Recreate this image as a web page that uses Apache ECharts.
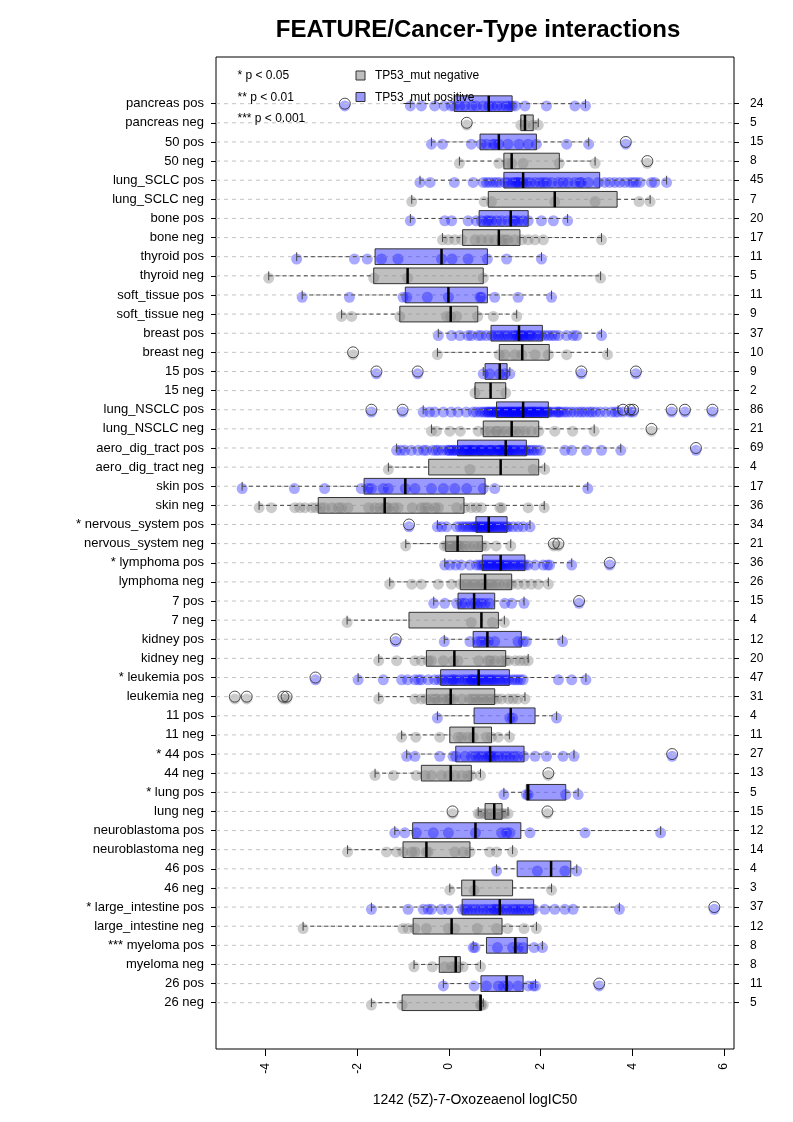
<!DOCTYPE html>
<html><head><meta charset="utf-8">
<script src="https://cdn.jsdelivr.net/npm/echarts@6/dist/echarts.min.js"></script>
<style>html,body{margin:0;padding:0;background:#fff}#c{width:793px;height:1122px}</style>
</head><body><div id="c"></div>
<script>
const categories = ["pancreas pos","pancreas neg","50 pos","50 neg","lung_SCLC pos","lung_SCLC neg","bone pos","bone neg","thyroid pos","thyroid neg","soft_tissue pos","soft_tissue neg","breast pos","breast neg","15 pos","15 neg","lung_NSCLC pos","lung_NSCLC neg","aero_dig_tract pos","aero_dig_tract neg","skin pos","skin neg","* nervous_system pos","nervous_system neg","* lymphoma pos","lymphoma neg","7 pos","7 neg","kidney pos","kidney neg","* leukemia pos","leukemia neg","11 pos","11 neg","* 44 pos","44 neg","* lung pos","lung neg","neuroblastoma pos","neuroblastoma neg","46 pos","46 neg","* large_intestine pos","large_intestine neg","*** myeloma pos","myeloma neg","26 pos","26 neg"];
const counts = [24,5,15,8,45,7,20,17,11,5,11,9,37,10,9,2,86,21,69,4,17,36,34,21,36,26,15,4,12,20,47,31,4,11,27,13,5,15,12,14,4,3,37,12,8,8,11,5];

const whiskerLow  = [-0.84,1.57,-0.38,0.23,-0.63,-0.81,-0.84,-0.14,-3.32,-3.93,-3.2,-2.34,-0.23,-0.25,0.75,0.57,-0.56,-0.38,-1.14,-1.32,-4.51,-4.14,-0.25,-0.94,-0.09,-1.29,-0.33,-2.22,-0.1,-1.53,-1.98,-1.53,-0.25,-1.03,-0.92,-1.61,1.2,0.64,-1.18,-2.21,1.04,0.02,-1.69,-3.18,0.53,-0.76,-0.12,-1.69];
const quart1      = [0.12,1.57,0.68,1.2,1.2,0.86,0.66,0.30,-1.61,-1.64,-0.95,-1.07,0.92,1.1,0.79,0.57,1.04,0.75,0.19,-0.44,-1.85,-2.85,0.59,-0.07,0.73,0.25,0.2,-0.87,0.53,-0.49,-0.18,-0.49,0.55,0.02,0.15,-0.6,1.69,0.79,-0.79,-1.0,1.49,0.28,0.29,-0.78,0.82,-0.21,0.7,-1.02];
const medians     = [0.87,1.66,1.09,1.37,1.62,2.31,1.35,1.09,-0.16,-0.9,-0.01,0.04,1.53,1.6,1.11,0.91,1.62,1.37,1.24,1.13,-0.95,-1.4,0.87,0.19,1.13,0.79,0.55,0.71,0.84,0.12,0.65,0.04,1.35,0.53,0.9,0.04,1.73,0.99,0.58,-0.49,2.23,0.55,1.11,0.06,1.45,0.15,1.26,0.69];
const quart3      = [1.38,1.84,1.91,2.41,3.29,3.67,1.73,1.55,0.84,0.75,0.84,0.63,2.04,2.19,1.27,1.24,2.17,1.96,1.69,1.96,0.79,0.33,1.27,0.73,1.66,1.37,1.0,1.08,1.58,1.24,1.32,1.0,1.88,0.93,1.64,0.49,2.55,1.16,1.57,0.46,2.66,1.39,1.85,1.16,1.71,0.25,1.62,0.71];
const whiskerHigh = [2.98,1.95,3.05,3.19,4.75,4.39,2.59,3.33,2.02,3.31,2.24,1.48,3.33,3.46,1.33,1.24,3.69,3.17,3.75,2.09,3.03,2.08,1.77,1.35,2.68,2.17,1.64,1.21,2.48,1.73,2.99,1.66,2.35,1.32,2.73,0.69,2.82,1.29,4.62,1.39,2.79,2.24,3.72,1.91,2.04,0.69,1.89,0.75];

const outliers = [[-2.27],[0.39],[3.86],[4.33],[],[],[],[],[],[],[],[],[],[-2.09],[-1.58,-0.68,2.89,4.08],[],
 [-1.69,-1.01,3.8,3.95,4.02,4.86,5.15,5.75],[4.42],[5.39],[],[],[],[-0.87],[2.29,2.39],[3.51],[],[2.84],[],[-1.16],[],[-2.91],[-4.67,-4.41,-3.61,-3.54],
 [],[],[4.87],[2.17],[],[0.08,2.15],[],[],[],[],[5.79],[],[],[],[3.28],[]];

const points = [
 [-2.27,-0.84,-0.6,-0.31,-0.1,0.05,0.12,0.24,0.35,0.5,0.6,0.75,0.87,0.95,1.05,1.15,1.25,1.32,1.38,1.45,1.66,2.13,2.75,2.98],
 [0.39,1.57,1.66,1.84,1.95],
 [-0.38,-0.14,0.49,0.71,0.82,0.96,1.0,1.09,1.29,1.53,1.73,1.91,2.57,3.05,3.86],
 [0.23,1.09,1.29,1.37,1.62,2.41,3.19,4.33],
 [-0.63,-0.41,0.12,0.53,0.75,0.82,0.89,0.97,1.04,1.11,1.22,1.29,1.37,1.44,1.48,1.51,1.55,1.62,1.69,1.77,1.88,1.99,2.06,2.13,2.24,2.39,2.49,2.6,2.75,2.86,2.89,3.04,3.26,3.4,3.51,3.62,3.73,3.84,3.95,4.02,4.09,4.17,4.42,4.49,4.75],
 [-0.81,0.77,0.93,2.31,3.19,4.15,4.39],
 [-0.84,-0.09,0.06,0.42,0.6,0.71,0.82,0.86,0.93,1.04,1.15,1.29,1.4,1.44,1.51,1.62,1.73,2.02,2.28,2.59],
 [-0.14,-0.01,0.13,0.28,0.57,0.71,0.86,1.0,1.15,1.22,1.29,1.44,1.59,1.73,1.88,2.06,3.33],
 [-3.32,-2.06,-1.78,-1.47,-1.11,-0.16,0.07,0.42,0.84,1.26,2.02],
 [-3.93,-1.64,-0.9,0.75,3.31],
 [-3.2,-2.17,-1.0,-0.92,-0.47,-0.01,0.68,0.71,1.0,1.51,2.24],
 [-2.34,-2.12,-1.07,-0.05,0.04,0.17,0.63,0.97,1.48],
 [-0.23,0.06,0.24,0.42,0.49,0.64,0.71,0.82,0.93,1.0,1.08,1.15,1.22,1.29,1.37,1.44,1.48,1.51,1.55,1.59,1.62,1.66,1.73,1.77,1.8,1.88,1.95,2.02,2.09,2.17,2.24,2.31,2.39,2.57,2.71,2.79,3.33],
 [-2.09,-0.25,1.1,1.22,1.44,1.59,1.88,2.17,2.57,3.46],
 [-1.58,-0.68,0.75,0.89,1.11,1.22,1.33,2.89,4.08],
 [0.57,1.24],
 [-1.69,-1.01,3.8,3.95,4.02,4.86,5.15,5.75,
  -0.56,-0.42,-0.31,-0.12,0.05,0.2,0.38,0.53,0.6,0.68,0.74,0.79,0.84,0.9,0.93,0.97,1.02,1.05,1.09,1.12,
  1.15,1.19,1.22,1.27,1.3,1.33,1.36,1.41,1.44,1.46,1.5,1.55,1.58,1.6,1.62,1.65,1.69,1.72,1.75,1.78,
  1.81,1.86,1.89,1.92,1.96,2.01,2.05,2.1,2.14,2.17,2.2,2.26,2.33,2.38,2.45,2.52,2.58,2.66,2.74,2.83,
  2.9,2.97,3.06,3.12,3.2,3.3,3.42,3.55,3.63,3.69,1.0,1.25,1.38,1.53,1.84,0.86,2.0,2.4],
 [-0.38,-0.27,0.02,0.25,0.64,0.8,0.9,1.02,1.05,1.15,1.25,1.37,1.45,1.55,1.66,1.8,1.96,2.31,2.7,3.17,4.42],
 [-1.14,-1.05,-0.96,-0.82,-0.67,-0.55,-0.49,-0.35,-0.23,-0.14,-0.05,0.02,0.1,0.15,0.19,0.24,0.3,0.36,0.4,0.44,
  0.49,0.55,0.6,0.64,0.68,0.73,0.78,0.83,0.88,0.93,0.97,1.02,1.07,1.12,1.17,1.21,1.24,1.28,1.33,1.37,
  1.41,1.45,1.5,1.55,1.6,1.65,1.69,1.74,1.8,1.86,1.92,2.0,2.53,2.68,3.0,3.33,3.75,5.39,0.08,0.32,
  0.52,0.7,0.9,1.15,1.3,0.0,-0.28,0.45,1.1],
 [-1.32,0.46,1.84,2.09],
 [-4.51,-3.37,-2.71,-1.91,-1.76,-1.69,-1.43,-1.32,-0.95,-0.74,-0.38,-0.12,0.13,0.39,0.75,1.0,3.03],
 [-4.14,-3.87,-3.36,-3.25,-3.14,-2.99,-2.9,-2.8,-2.71,-2.55,-2.41,-2.34,-2.2,-1.75,-1.61,-1.5,-1.4,-1.36,-1.32,-1.2,
  -1.11,-0.8,-0.6,-0.52,-0.45,-0.3,-0.23,0.17,0.35,0.49,0.6,0.71,1.11,1.15,1.73,2.08],
 [-0.87,-0.25,-0.16,-0.05,0.17,0.25,0.31,0.37,0.42,0.48,0.53,0.57,0.6,0.63,0.67,0.7,0.74,0.78,0.82,0.85,
  0.88,0.92,0.96,1.0,1.05,1.1,1.15,1.2,1.26,1.3,1.4,1.51,1.62,1.77],
 [-0.94,-0.1,-0.04,0.0,0.05,0.1,0.15,0.19,0.22,0.28,0.35,0.45,0.55,0.65,0.72,0.8,1.03,1.35,2.29,2.39,0.12],
 [-0.09,0.02,0.15,0.27,0.46,0.6,0.67,0.72,0.76,0.8,0.84,0.88,0.92,0.96,1.0,1.04,1.08,1.12,1.15,1.19,
  1.23,1.28,1.33,1.38,1.44,1.5,1.55,1.6,1.66,1.72,1.88,2.06,2.15,2.2,2.68,3.51],
 [-1.29,-0.81,-0.6,-0.23,0.06,0.25,0.33,0.4,0.48,0.55,0.62,0.7,0.76,0.82,0.88,0.95,1.02,1.1,1.2,1.3,1.37,1.51,1.65,1.8,1.95,2.17],
 [-0.33,-0.09,0.17,0.28,0.35,0.49,0.57,0.64,0.71,0.79,0.89,1.22,1.37,1.64,2.84],
 [-2.22,0.49,0.95,1.21],
 [-1.16,-0.1,0.46,0.64,0.71,0.79,0.86,1.0,1.51,1.62,1.69,2.48],
 [-1.53,-1.14,-0.74,-0.6,-0.45,-0.38,-0.12,0.1,0.2,0.65,0.85,0.9,1.0,1.15,1.24,1.3,1.45,1.55,1.65,1.73],
 [-2.91,-1.98,-1.43,-1.03,-0.9,-0.74,-0.66,-0.6,-0.31,-0.22,-0.15,-0.08,0.0,0.07,0.15,0.22,0.3,0.36,0.42,0.48,
  0.53,0.58,0.62,0.65,0.7,0.75,0.8,0.86,0.9,0.95,1.0,1.06,1.12,1.18,1.25,1.3,1.38,1.44,1.5,1.56,
  1.62,2.39,2.68,2.99,0.1,0.5,-0.45],
 [-4.67,-4.41,-3.61,-3.54,-1.53,-0.74,-0.6,-0.5,-0.38,-0.25,-0.14,-0.05,0.0,0.04,0.1,0.28,0.45,0.52,0.6,0.67,
  0.75,0.82,0.9,0.97,1.05,1.15,1.3,1.4,1.5,1.66,-0.3],
 [-0.25,1.33,1.39,2.35],
 [-1.03,-0.72,-0.2,0.2,0.28,0.42,0.53,0.82,0.93,1.08,1.32],
 [-0.92,-0.74,-0.2,0.09,0.15,0.35,0.49,0.58,0.65,0.72,0.8,0.86,0.9,0.95,1.0,1.08,1.17,1.25,1.33,1.42,1.5,1.64,1.88,2.13,2.49,2.73,4.87],
 [-1.61,-1.21,-0.71,-0.52,-0.38,-0.16,-0.01,0.13,0.28,0.42,0.49,0.69,2.17],
 [1.2,1.69,1.73,2.55,2.82],
 [0.08,0.64,0.68,0.75,0.8,0.86,0.92,0.99,1.04,1.09,1.15,1.16,1.22,1.29,2.15],
 [-1.18,-0.96,-0.71,-0.34,-0.01,0.58,1.15,1.26,1.33,1.77,2.97,4.62],
 [-2.21,-1.36,-1.14,-1.0,-0.81,-0.74,-0.49,-0.45,0.13,0.31,0.46,0.89,1.04,1.39],
 [1.04,1.93,2.53,2.79],
 [0.02,0.55,2.24],
 [-1.69,-0.89,-0.56,-0.45,-0.38,-0.16,-0.01,0.29,0.35,0.42,0.5,0.58,0.66,0.75,0.82,0.9,0.98,1.05,1.11,1.18,
  1.25,1.33,1.4,1.46,1.52,1.58,1.65,1.72,1.8,1.85,2.09,2.31,2.53,2.71,3.72,5.79,1.0],
 [-3.18,-1.0,-0.89,-0.74,-0.49,-0.01,0.13,0.62,1.04,1.28,1.64,1.91],
 [0.53,0.57,1.06,1.39,1.51,1.62,1.86,2.04],
 [-0.76,-0.36,-0.09,0.06,0.13,0.2,0.31,0.69],
 [-0.12,0.55,0.82,1.08,1.19,1.29,1.51,1.73,1.84,1.89,3.28],
 [-1.69,-1.02,0.69,0.71,0.75]
];

const xTicks = [-4,-2,0,2,4,6];
const titleText = "FEATURE/Cancer-Type interactions";
const xTitle = "1242 (5Z)-7-Oxozeaenol logIC50";
const sigLegend = ["* p < 0.05","** p < 0.01","*** p < 0.001"];
const groupLegend = ["TP53_mut negative","TP53_mut positive"];

const FONT = "'Liberation Sans', Arial, Helvetica, sans-serif";
const BLUE_PT = 'rgba(0,0,255,0.42)';
const GRAY_PT = 'rgba(128,128,128,0.5)';
const BLUE_BOX = 'rgba(0,0,255,0.4)';
const GRAY_BOX = 'rgba(128,128,128,0.5)';
const rowIdx = categories.map((c,i)=>i);
const isPos = categories.map(c => /pos$/.test(c));

const posPts = [], negPts = [], outPts = [];
points.forEach((arr,i)=>arr.forEach(v => (isPos[i]?posPts:negPts).push([v, i + 0.12])));
outliers.forEach((arr,i)=>arr.forEach(v => outPts.push([v, i])));
const boxData = categories.map((c,i)=>[i, whiskerLow[i], quart1[i], medians[i], quart3[i], whiskerHigh[i], isPos[i]?1:0]);

function renderBox(params, api){
  const r = api.value(0);
  const lo=api.value(1), a=api.value(2), m=api.value(3), b=api.value(4), hi=api.value(5), pos=api.value(6);
  const pLo=api.coord([lo,r]), pA=api.coord([a,r]), pM=api.coord([m,r]), pB=api.coord([b,r]), pHi=api.coord([hi,r]);
  const rowH = Math.abs(api.size([0,1])[1]);
  const bh = rowH*0.41, sh = rowH*0.23, y = pA[1];
  const wStyle = {stroke:'#444', lineWidth:1, lineDash:[4,3]};
  const ch = [
    {type:'line', shape:{x1:pLo[0],y1:y,x2:pA[0],y2:y}, style:wStyle},
    {type:'line', shape:{x1:pB[0],y1:y,x2:pHi[0],y2:y}, style:wStyle},
    {type:'line', shape:{x1:pLo[0],y1:y-sh,x2:pLo[0],y2:y+sh}, style:{stroke:'#444',lineWidth:1}},
    {type:'line', shape:{x1:pHi[0],y1:y-sh,x2:pHi[0],y2:y+sh}, style:{stroke:'#444',lineWidth:1}},
    {type:'rect', shape:{x:pA[0], y:y-bh, width:Math.max(pB[0]-pA[0],0.5), height:2*bh},
      style:{fill: pos? BLUE_BOX : GRAY_BOX, stroke:'#333', lineWidth:1}},
    {type:'line', shape:{x1:pM[0],y1:y-bh,x2:pM[0],y2:y+bh}, style:{stroke:'#000',lineWidth:2.5}}
  ];
  return {type:'group', children: ch};
}

const chart = echarts.init(document.getElementById('c'), null, {renderer:'canvas'});
const yBase = {type:'value', inverse:true, min:-2.44, max:49.42,
  axisLine:{show:false, onZero:false}, splitLine:{show:false}};
chart.setOption({
  animation:false,
  backgroundColor:'#fff',
  textStyle:{fontFamily:FONT},
  grid:{left:216, right:59, top:57, bottom:73, show:true, borderColor:'#000', borderWidth:1, backgroundColor:'transparent'},
  xAxis:{type:'value', min:-5.08, max:6.22, position:'bottom', axisLine:{show:false, onZero:false}, splitLine:{show:false},
    axisTick:{show:true, customValues:xTicks, length:7, lineStyle:{color:'#000'}},
    axisLabel:{customValues:xTicks, rotate:90, margin:14, fontSize:12, color:'#000', fontFamily:FONT}},
  yAxis:[
    Object.assign({}, yBase, {position:'left',
      axisTick:{show:true, customValues:rowIdx, length:5, lineStyle:{color:'#000'}},
      axisLabel:{customValues:rowIdx, formatter:v=>categories[Math.round(v)], fontSize:13, color:'#000', margin:12, fontFamily:FONT}}),
    Object.assign({}, yBase, {position:'right',
      axisTick:{show:true, customValues:rowIdx, length:5, lineStyle:{color:'#000'}},
      axisLabel:{customValues:rowIdx, formatter:v=>String(counts[Math.round(v)]), fontSize:12, color:'#000', margin:16, fontFamily:FONT}})
  ],
  series:[
    {type:'scatter', name:'neg', z:2, data:negPts, symbolSize:11, silent:true, itemStyle:{color:GRAY_PT}},
    {type:'scatter', name:'pos', z:2, data:posPts, symbolSize:11, silent:true, itemStyle:{color:BLUE_PT}},
    {type:'custom', name:'grid', z:3, data:rowIdx.map(i=>[0,i]), encode:{x:0,y:1}, silent:true,
      renderItem:(p,api)=>{ const r=api.value(1); const pt=api.coord([0,r]); const cs=p.coordSys;
        return {type:'line', shape:{x1:cs.x,y1:pt[1],x2:cs.x+cs.width,y2:pt[1]}, style:{stroke:'#c4c4c4',lineWidth:1,lineDash:[4,4]}}; }},
    {type:'custom', name:'box', z:4, data:boxData, encode:{x:[1,2,3,4,5], y:0}, silent:true, renderItem:renderBox},
    {type:'scatter', name:'out', z:5, data:outPts, symbolSize:11, silent:true,
      itemStyle:{color:'rgba(0,0,0,0)', borderColor:'#222', borderWidth:1}}
  ],
  graphic:[
    {type:'text', x:478, y:30, z:100, style:{text:titleText, font:"bold 24px "+FONT, fill:'#000', textAlign:'center', textVerticalAlign:'middle', align:'center', verticalAlign:'middle'}},
    {type:'text', x:475, y:1100, z:100, style:{text:xTitle, font:"14px "+FONT, fill:'#000', textAlign:'center', textVerticalAlign:'middle', align:'center', verticalAlign:'middle'}},
    {type:'text', x:237.5, y:76, z:100, style:{text:sigLegend[0], font:"12px "+FONT, fill:'#000', textVerticalAlign:'middle', verticalAlign:'middle'}},
    {type:'text', x:237.5, y:97.5, z:100, style:{text:sigLegend[1], font:"12px "+FONT, fill:'#000', textVerticalAlign:'middle', verticalAlign:'middle'}},
    {type:'text', x:237.5, y:119, z:100, style:{text:sigLegend[2], font:"12px "+FONT, fill:'#000', textVerticalAlign:'middle', verticalAlign:'middle'}},
    {type:'rect', z:100, shape:{x:356, y:71, width:9, height:9}, style:{fill:'#bebebe', stroke:'#333', lineWidth:1}},
    {type:'rect', z:100, shape:{x:356, y:92.5, width:9, height:9}, style:{fill:'#9999ff', stroke:'#333', lineWidth:1}},
    {type:'text', x:375, y:76, z:100, style:{text:groupLegend[0], font:"12px "+FONT, fill:'#000', textVerticalAlign:'middle', verticalAlign:'middle'}},
    {type:'text', x:375, y:97.5, z:100, style:{text:groupLegend[1], font:"12px "+FONT, fill:'#000', textVerticalAlign:'middle', verticalAlign:'middle'}}
  ]
});
</script></body></html>
